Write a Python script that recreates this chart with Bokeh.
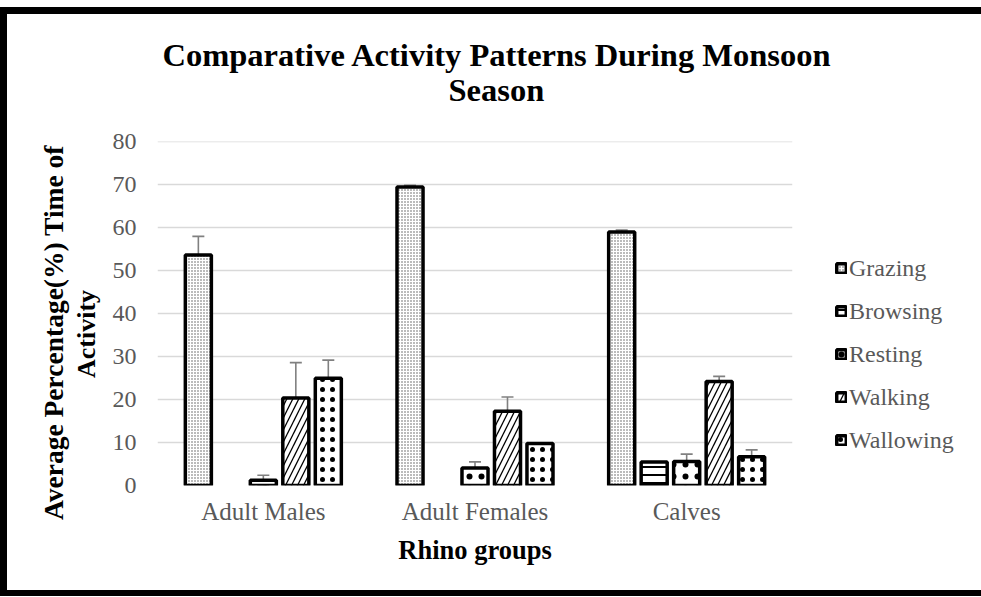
from bokeh.plotting import figure
from bokeh.models import (FactorRange, ColumnDataSource, Whisker, TeeHead, Legend, LegendItem,
                          Title, FixedTicker)
from bokeh.transform import dodge
from bokeh.embed import file_html
from bokeh.resources import INLINE

# ---- data ----
groups = ["Adult Males", "Adult Females", "Calves"]
activities = ["Grazing", "Browsing", "Resting", "Walking", "Wallowing"]
grazing = [53.7, 69.5, 59.0]
grazing_err = [4.3, 0.4, 0.5]
browsing = [0.0, 0.0, 5.5]
browsing_err = [0.0, 0.0, 0.0]
resting = [1.2, 4.1, 5.6]
resting_err = [1.2, 1.4, 1.7]
walking = [20.4, 17.3, 24.2]
walking_err = [8.2, 3.3, 1.2]
wallowing = [25.0, 9.8, 6.7]
wallowing_err = [4.2, 0.0, 1.6]
y_ticks = [0, 10, 20, 30, 40, 50, 60, 70, 80]

values = [grazing, browsing, resting, walking, wallowing]
errors = [grazing_err, browsing_err, resting_err, walking_err, wallowing_err]

hatch = [
    dict(hatch_pattern="dot", hatch_scale=3, hatch_weight=1.2, hatch_color="#555555"),
    dict(hatch_pattern="horizontal_line", hatch_scale=8, hatch_weight=2, hatch_color="black"),
    dict(hatch_pattern="dot", hatch_scale=12, hatch_weight=1.1, hatch_color="black"),
    dict(hatch_pattern="right_diagonal_line", hatch_scale=12, hatch_weight=1.3, hatch_color="black"),
    dict(hatch_pattern="dot", hatch_scale=10, hatch_weight=1.2, hatch_color="black"),
]

serif = "Liberation Serif"

p = figure(x_range=FactorRange(*groups, range_padding=0), y_range=(0, 80.1),
           frame_width=635, frame_height=344,
           min_border_left=150, min_border_right=180, min_border_top=127, min_border_bottom=105,
           output_backend="svg", toolbar_location=None, background_fill_color="white",
           border_fill_color="white", outline_line_color=None)
p.styles = {"border-left": "7px solid black", "border-top": "7px solid black",
            "border-bottom": "6px solid black", "margin-top": "7px"}

slot = 0.1535
bw = 0.123
items = []
for i, (name, vals, errs) in enumerate(zip(activities, values, errors)):
    off = (i - 2) * slot
    keep = [k for k, v in enumerate(vals) if v > 0]
    src = ColumnDataSource(dict(g=[groups[k] for k in keep], v=[vals[k] for k in keep]))
    r = p.vbar(x=dodge("g", off, range=p.x_range), top="v", width=bw, source=src,
               fill_color="white", line_color="black", line_width=3.5, **hatch[i])
    items.append(LegendItem(label=name, renderers=[r]))
    wk = [k for k in keep if errs[k] > 0]
    if wk:
        wsrc = ColumnDataSource(dict(g=[groups[k] for k in wk],
                                     u=[vals[k] + errs[k] for k in wk],
                                     l=[vals[k] - errs[k] for k in wk]))
        w = Whisker(base=dodge("g", off, range=p.x_range), upper="u", lower="l", source=wsrc,
                    line_color="#808080", line_width=1.6,
                    upper_head=TeeHead(size=12, line_color="#808080", line_width=1.6),
                    lower_head=TeeHead(size=12, line_color="#808080", line_width=1.6))
        p.add_layout(w)

# axes / grid
p.yaxis.ticker = FixedTicker(ticks=y_ticks)
p.ygrid.ticker = FixedTicker(ticks=y_ticks)
p.ygrid.grid_line_color = "#d9d9d9"
p.ygrid.grid_line_width = 1.5
p.xgrid.grid_line_color = None
for ax in (p.xaxis, p.yaxis):
    ax.axis_line_color = None
    ax.major_tick_line_color = None
    ax.minor_tick_line_color = None
    ax.major_label_text_font = serif
    ax.major_label_text_color = "#595959"
p.yaxis.major_label_text_font_size = "24px"
p.xaxis.major_label_text_font_size = "25px"
p.yaxis.major_label_standoff = 15
p.xaxis.major_label_standoff = 6

legend = Legend(items=items, location=(43, 31), glyph_width=12, glyph_height=12,
                label_text_font=serif, label_text_font_size="24px",
                label_text_color="#595959", label_standoff=2, spacing=15, padding=0, margin=0,
                label_height=28, border_line_alpha=0, background_fill_alpha=0)
p.add_layout(legend, "right")

# title (two lines)
p.add_layout(Title(text="Season", align="left", offset=291, standoff=68,
                   text_font=serif, text_font_style="bold", text_font_size="32.5px",
                   text_color="black"), "above")
p.add_layout(Title(text="Comparative Activity Patterns During Monsoon", align="left",
                   offset=5, standoff=-74, text_font=serif, text_font_style="bold",
                   text_font_size="32.5px", text_color="black"), "above")

# axis titles
p.add_layout(Title(text="Rhino groups", align="center", standoff=10,
                   text_font=serif, text_font_style="bold", text_font_size="26.5px",
                   text_color="black"), "below")
p.add_layout(Title(text="Activity", align="left", offset=107.5, standoff=18,
                   text_font=serif, text_font_style="bold", text_font_size="26px",
                   text_color="black"), "left")
p.add_layout(Title(text="Average  Percentage(%) Time of", align="left", offset=-34.5,
                   standoff=-16, text_font=serif, text_font_style="bold",
                   text_font_size="27.5px", text_color="black"), "left")

open("out.html", "w").write(file_html(p, INLINE))
